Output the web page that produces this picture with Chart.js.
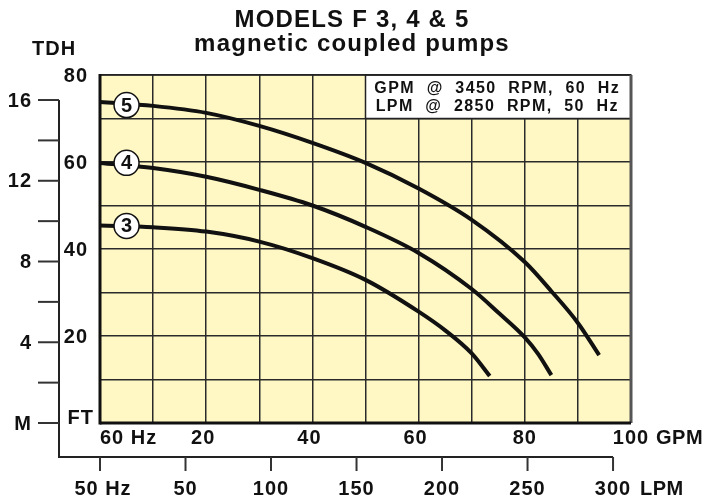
<!DOCTYPE html>
<html lang="en">
<head>
<meta charset="UTF-8">
<title>Models F 3, 4 &amp; 5</title>
<script src="https://cdn.jsdelivr.net/npm/chart.js@4.4.0/dist/chart.umd.min.js"></script>
<style>
    html, body { margin: 0; padding: 0; background: #fff; }
    .wrap { position: relative; width: 715px; height: 503px; }
</style>
</head>
<body>
<div class="wrap"><canvas id="pumpChart"></canvas></div>
<script>
// pump curves: flow in GPM, head in FT (60 Hz)
var gpm3 = [0, 10, 20, 30, 40, 50, 60, 65, 70, 73.4];
var ft3  = [45.4, 45.0, 44.0, 41.7, 37.9, 32.9, 25.6, 21.3, 16.0, 10.8];
var gpm4 = [0, 10, 20, 30, 40, 50, 60, 70, 75, 80, 82.5, 85];
var ft4  = [59.8, 58.6, 56.6, 53.6, 50.0, 45.1, 39.1, 30.8, 25.4, 19.7, 15.9, 11.0];
var gpm5 = [0, 10, 20, 30, 40, 50, 60, 70, 80, 85, 90, 94];
var ft5  = [73.8, 72.9, 71.3, 68.3, 64.4, 59.8, 53.9, 46.7, 37.0, 30.3, 23.0, 15.6];

// model number bubbles
var modelNames = ['3', '4', '5'];
var labelGpm = 5;
var labelFt = [45.3, 59.8, 73.1];

// axes
var gpmTicks = [0, 20, 40, 60, 80, 100];
var gpmTickLabels = ['60 Hz', '20', '40', '60', '80', '100'];
var ftTicks = [20, 40, 60, 80];
var lpmTicks = [0, 50, 100, 150, 200, 250, 300];
var lpmTickLabels = ['50 Hz', '50', '100', '150', '200', '250', '300'];
var tdhTicks = [0, 2, 4, 6, 8, 10, 12, 14, 16];
var tdhTickLabels = ['M', '', '4', '', '8', '', '12', '', '16'];

var titleLines = ['MODELS F 3, 4 & 5', 'magnetic coupled pumps'];
var noteLines = ['GPM  @  3450  RPM,  60  Hz', 'LPM  @  2850  RPM,  50  Hz'];

var FONT = "'Liberation Sans', Arial, Helvetica, sans-serif";
var INK = '#111';

function pts(xs, ys) {
    return xs.map(function (x, i) { return { x: x, y: ys[i] }; });
}

function txt(ctx, s, x, y, align, size, spacing) {
    ctx.save();
    ctx.font = 'bold ' + size + 'px ' + FONT;
    ctx.fillStyle = INK;
    ctx.textAlign = align;
    ctx.textBaseline = 'middle';
    if ('letterSpacing' in ctx) ctx.letterSpacing = (spacing || 0) + 'px';
    ctx.fillText(s, x, y);
    ctx.restore();
}

function line(ctx, x1, y1, x2, y2, w, c) {
    ctx.beginPath();
    ctx.lineWidth = w;
    ctx.strokeStyle = c;
    ctx.moveTo(x1, y1);
    ctx.lineTo(x2, y2);
    ctx.stroke();
}

var decor = {
    id: 'decor',
    beforeDraw: function (chart) {
        var ctx = chart.ctx, a = chart.chartArea;
        ctx.save();
        ctx.fillStyle = '#fff8c4';
        ctx.fillRect(a.left, a.top, a.right - a.left, a.bottom - a.top);
        ctx.restore();
    },
    beforeDatasetsDraw: function (chart) {
        var ctx = chart.ctx, a = chart.chartArea;
        var x = chart.scales.x, y = chart.scales.y;
        ctx.save();
        // white note box over the top-right cells
        var bx = x.getPixelForValue(50), by = y.getPixelForValue(70);
        ctx.fillStyle = '#fff';
        ctx.fillRect(bx, a.top, a.right - bx, by - a.top);
        ctx.strokeStyle = '#222';
        ctx.lineWidth = 1.5;
        ctx.strokeRect(bx, a.top, a.right - bx, by - a.top);
        txt(ctx, noteLines[0], (bx + a.right) / 2 - 1, a.top + 14, 'center', 16, 1.4);
        txt(ctx, noteLines[1], (bx + a.right) / 2 - 1, a.top + 32, 'center', 16, 1.4);
        // plot frame
        line(ctx, a.left, a.top, a.right, a.top, 1.5, '#222');
        line(ctx, a.right, a.top, a.right, a.bottom, 3, '#555');
        line(ctx, a.left, a.top - 1, a.left, a.bottom + 1.5, 3, INK);
        line(ctx, a.left, a.bottom, a.right, a.bottom, 3, INK);
        ctx.restore();
    },
    afterDatasetsDraw: function (chart) {
        var ctx = chart.ctx;
        var x = chart.scales.x, y = chart.scales.y;
        modelNames.forEach(function (n, i) {
            txt(ctx, n, x.getPixelForValue(labelGpm), y.getPixelForValue(labelFt[i]) + 1, 'center', 20, 0);
        });
    },
    afterDraw: function (chart) {
        var ctx = chart.ctx, a = chart.chartArea;
        var x = chart.scales.x, y = chart.scales.y;
        var lpm = chart.scales.lpm, tdh = chart.scales.tdh;
        ctx.save();

        // title
        txt(ctx, titleLines[0], 352, 20, 'center', 24, 1.2);
        txt(ctx, titleLines[1], 352, 44, 'center', 24, 1.2);

        // FT labels (inside scale)
        ftTicks.forEach(function (v) {
            txt(ctx, String(v), a.left - 12, y.getPixelForValue(v) + 1, 'right', 20, 1);
        });
        txt(ctx, 'FT', a.left - 6, a.bottom - 5, 'right', 20, 1);

        // GPM labels
        var gy = a.bottom + 15;
        gpmTicks.forEach(function (v, i) {
            var px = x.getPixelForValue(v);
            if (i === 0) txt(ctx, gpmTickLabels[i], px, gy, 'left', 20, 1);
            else txt(ctx, gpmTickLabels[i], px - (i < 4 ? 3 : 0), gy, 'center', 20, 1);
        });
        txt(ctx, 'GPM', x.getPixelForValue(100) + 25, gy, 'left', 20, 0.5);

        // outer TDH / LPM frame
        var ax = 59, ay = 457;
        var lpmEnd = lpm.getPixelForValue(300);
        line(ctx, ax, tdh.getPixelForValue(16), ax, ay, 2, '#222');
        line(ctx, ax - 1, ay, lpmEnd, ay, 2, '#222');
        tdhTicks.forEach(function (v, i) {
            var py = tdh.getPixelForValue(v);
            line(ctx, 38, py, ax, py, 2, '#333');
            if (tdhTickLabels[i]) txt(ctx, tdhTickLabels[i], 32, py + 1, 'right', 20, 1);
        });
        txt(ctx, 'TDH', 32, 49, 'left', 20, 1);

        lpmTicks.forEach(function (v, i) {
            var px = lpm.getPixelForValue(v);
            line(ctx, px, ay, px, ay + 14, 2, '#333');
            txt(ctx, lpmTickLabels[i], px + (i === 0 ? 3 : 0), ay + 32, 'center', 20, 1);
        });
        txt(ctx, 'LPM', lpmEnd + 27, ay + 32, 'left', 20, 0.5);
        ctx.restore();
    }
};

var curveStyle = {
    borderColor: INK,
    borderWidth: 4,
    pointRadius: 0,
    fill: false,
    showLine: true,
    cubicInterpolationMode: 'monotone',
    order: 2
};

var gridStyle = { color: '#2a2a2a', lineWidth: 1.5, drawTicks: false };

var chart = new Chart(document.getElementById('pumpChart'), {
    type: 'scatter',
    data: {
        datasets: [
            Object.assign({ label: 'F 3', data: pts(gpm3, ft3) }, curveStyle),
            Object.assign({ label: 'F 4', data: pts(gpm4, ft4) }, curveStyle),
            Object.assign({ label: 'F 5', data: pts(gpm5, ft5) }, curveStyle),
            {
                label: 'models',
                data: labelFt.map(function (v) { return { x: labelGpm, y: v }; }),
                pointRadius: 12.5,
                pointBackgroundColor: '#fff',
                pointBorderColor: INK,
                pointBorderWidth: 1.5,
                showLine: false,
                order: 0
            }
        ]
    },
    options: {
        responsive: true,
        maintainAspectRatio: false,
        animation: false,
        layout: { padding: { left: 100, right: 84, top: 75, bottom: 80 } },
        plugins: { legend: { display: false }, tooltip: { enabled: false } },
        scales: {
            x: {
                type: 'linear', min: 0, max: 100,
                ticks: { display: false, stepSize: 10 },
                grid: gridStyle,
                border: { display: false }
            },
            y: {
                type: 'linear', min: 0, max: 80,
                ticks: { display: false, stepSize: 10 },
                grid: gridStyle,
                border: { display: false }
            },
            lpm: { type: 'linear', axis: 'x', position: 'bottom', display: false, min: 0, max: 310.5 },
            tdh: { type: 'linear', axis: 'y', position: 'left', display: false, min: 0, max: 17.24 }
        }
    },
    plugins: [decor]
});
</script>
</body>
</html>
